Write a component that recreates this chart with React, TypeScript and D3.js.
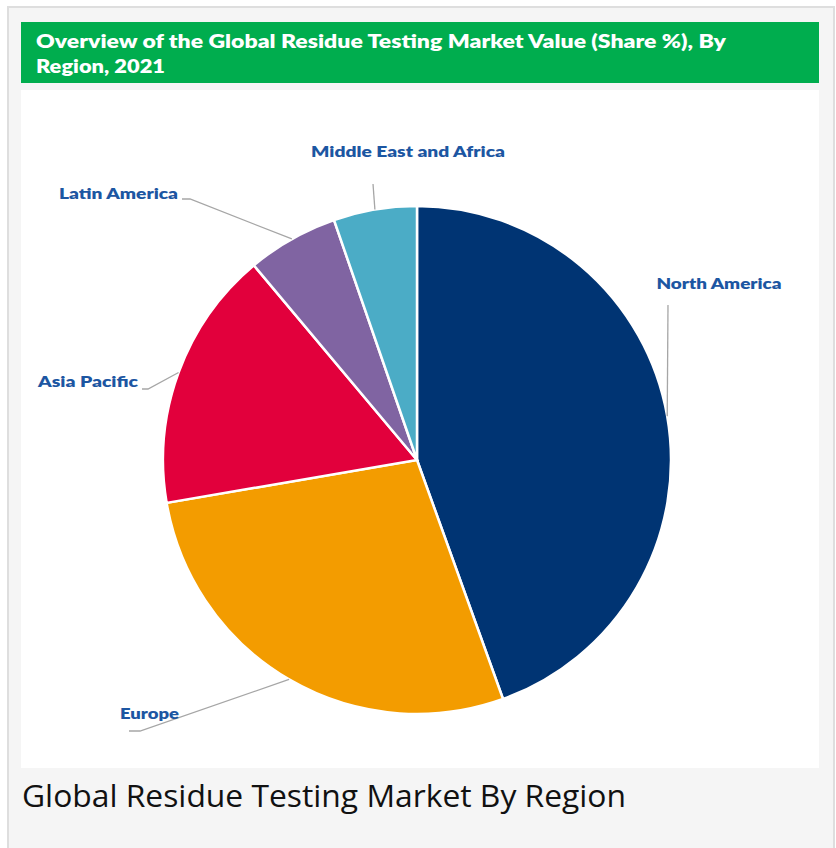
import React from "react";
import * as d3 from "d3";

const regions = ["North America", "Europe", "Asia Pacific", "Latin America", "Middle East and Africa"];
const shares = [44.5, 27.8, 16.6, 5.8, 5.3];
const colors = ["#003473", "#f39c00", "#e2003c", "#8064a2", "#4bacc6"];

const titleLines = ["Overview of the Global Residue Testing Market Value (Share %), By", "Region, 2021"];
const caption = "Global Residue Testing Market By Region";

// label layout: elbow point (relative to pie center), end of horizontal segment, label anchor
const labelLayout = [
  { elbow: [251, -155], end: [251, -155], text: [302, -171], anchor: "middle", len: 125 },
  { elbow: [-277, 271], end: [-288, 271], text: [-267.5, 259], anchor: "middle", len: 59 },
  { elbow: [-269, -71], end: [-275, -71], text: [-279, -73], anchor: "end", len: 100 },
  { elbow: [-227, -261], end: [-235, -261], text: [-239, -261], anchor: "end", len: 119 },
  { elbow: [-44, -276], end: [-44, -276], text: [-9, -303], anchor: "middle", len: 194 },
];

export default function App() {
  const W = 836, H = 848;
  const cx = 417, cy = 460, R = 254;
  const data = regions.map((r, i) => ({ name: r, value: shares[i], color: colors[i] }));
  const pie = d3.pie<any>().value((d) => d.value).sort(null).startAngle(0).endAngle(2 * Math.PI);
  const arcs = pie(data);
  const arc = d3.arc<any>().innerRadius(0).outerRadius(R);
  const labelFont = "'Lato', 'DejaVu Sans', sans-serif";

  return (
    <svg width={W} height={H} style={{ position: "absolute", left: 0, top: 0 }}>
      <rect x={0} y={0} width={W} height={H} fill="#ffffff" />
      <rect x={8} y={7} width={826} height={850} fill="#f5f5f5" stroke="#dedede" strokeWidth={2} />
      <rect x={21} y={22} width={798} height={61} fill="#00ad4e" />
      <text x={36} y={48} fill="#ffffff" fontFamily={labelFont} fontWeight={800} fontSize={19.5}
        textLength={690} lengthAdjust="spacingAndGlyphs">{titleLines[0]}</text>
      <text x={36} y={73} fill="#ffffff" fontFamily={labelFont} fontWeight={800} fontSize={19.5}
        textLength={129} lengthAdjust="spacingAndGlyphs">{titleLines[1]}</text>
      <rect x={21} y={90} width={798} height={678} fill="#ffffff" />
      <g transform={`translate(${cx},${cy})`}>
        {arcs.map((a, i) => (
          <path key={i} d={arc(a) as string} fill={a.data.color} stroke="#ffffff" strokeWidth={2.5} />
        ))}
        {arcs.map((a, i) => {
          const mid = (a.startAngle + a.endAngle) / 2;
          const sx = R * Math.sin(mid), sy = -R * Math.cos(mid);
          const L = labelLayout[i];
          return (
            <g key={"l" + i}>
              <polyline points={`${sx},${sy} ${L.elbow[0]},${L.elbow[1]} ${L.end[0]},${L.end[1]}`}
                fill="none" stroke="#a6a6a6" strokeWidth={1.3} />
              <text x={L.text[0]} y={L.text[1]} textAnchor={L.anchor as any} fill="#1c56a2"
                fontFamily={labelFont} fontWeight={800} fontSize={15.5}
                textLength={L.len} lengthAdjust="spacingAndGlyphs">{a.data.name}</text>
            </g>
          );
        })}
      </g>
      <text x={22} y={807} fill="#111111" fontFamily="'Open Sans', sans-serif" fontSize={31}
        textLength={604} lengthAdjust="spacingAndGlyphs">{caption}</text>
    </svg>
  );
}
